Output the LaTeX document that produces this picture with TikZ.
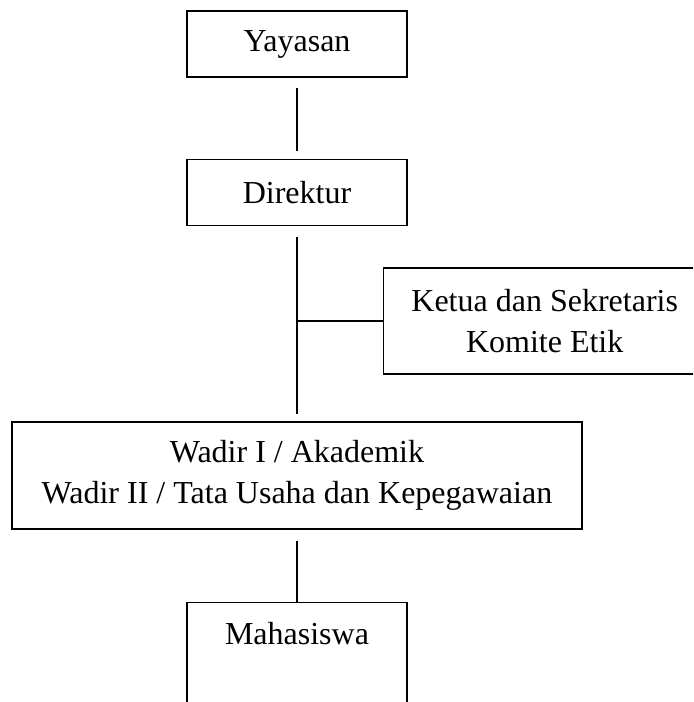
\documentclass[tikz,border=0pt]{standalone}
\usepackage{fontspec}
\setmainfont{Liberation Serif}
\usetikzlibrary{positioning}

\begin{document}
\begin{tikzpicture}
    [
        font=\fontsize{16}{20.5}\selectfont,
        box/.style   ={rectangle, draw=black, line width=0.7pt, align=center,
                        minimum width=110pt, minimum height=33pt, inner sep=2pt},
        widebox/.style ={box, minimum width=285pt, minimum height=53.5pt},
        sidebox/.style ={box, minimum width=161pt, minimum height=53pt},
        tallbox/.style ={box, minimum height=72pt},
        link/.style  ={-, line width=0.7pt}
    ]

    \path[use as bounding box, clip] (-148.5pt,22pt) rectangle (198pt,-329pt);

    \node[box]      (yayasan)                                {Yayasan};
    \node[box]      (direktur) [below=40.5pt of yayasan]     {Direktur};
    \coordinate[below=47.5pt of direktur.south] (cab);
    \node[sidebox]  (komite)   [right=43pt of cab]           {Ketua dan Sekretaris\\Komite Etik};
    \node[widebox]  (wadir)    [below=97.5pt of direktur]    {Wadir I / Akademik\\Wadir II / Tata Usaha dan Kepegawaian};
    \node[tallbox]  (mhs)      [below=36pt of wadir]         {Mahasiswa\\[20pt]~};

    \draw[link, shorten <=5pt, shorten >=4pt]     (yayasan) -- (direktur);
    \draw[link, shorten <=5.5pt, shorten >=3.5pt] (direktur) -- (wadir);
    \draw[link]                                   (cab) -- (komite);
    \draw[link, shorten <=5.5pt]                  (wadir) -- (mhs);

\end{tikzpicture}
\end{document}
